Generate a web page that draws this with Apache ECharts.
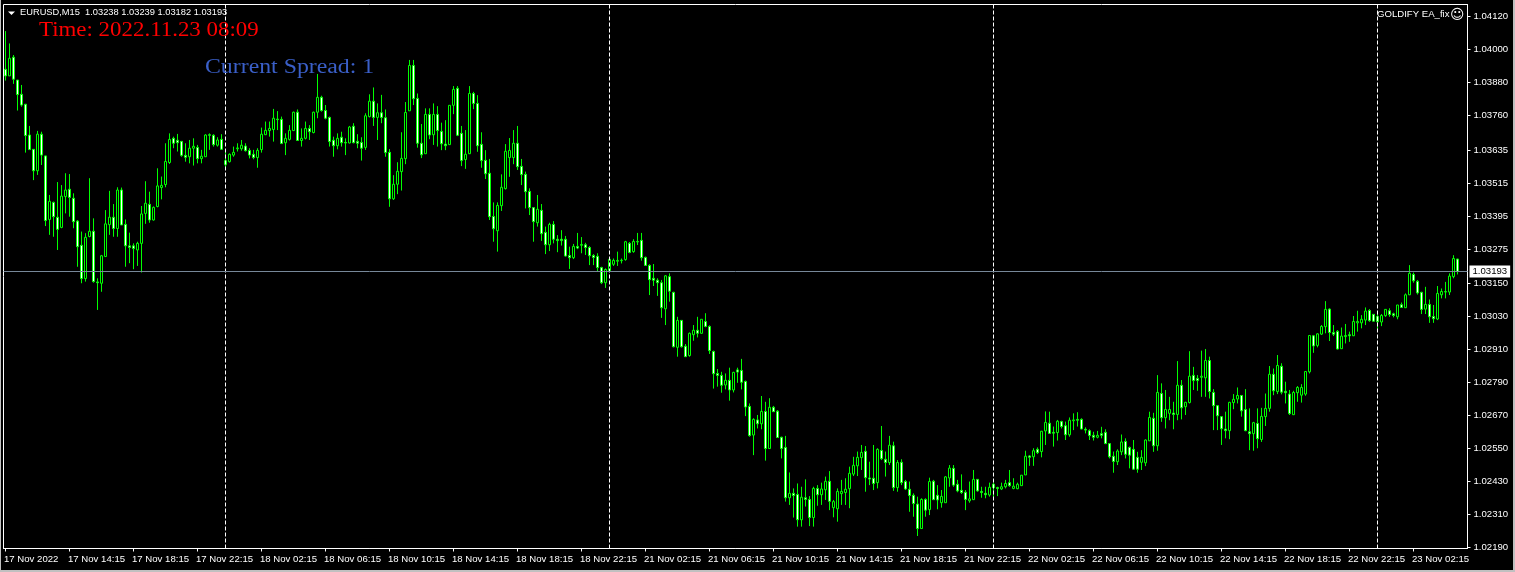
<!DOCTYPE html>
<html>
<head>
<meta charset="utf-8">
<title>EURUSD,M15</title>
<script src="https://cdn.jsdelivr.net/npm/echarts@6/dist/echarts.min.js"></script>
<style>html,body{margin:0;padding:0;background:#000;overflow:hidden}#chart{width:1515px;height:572px;}</style>
</head>
<body>
<div id="chart"></div>
<script>
// Prices are stored in 0.00001 units above 1.00000 (3193 = 1.03193)
const opens = [
3928,3904,3972,3889,3837,3801,3689,3637,3559,3692,
3613,3382,3444,3390,3353,3465,3492,3459,3376,3288,
3167,3320,3339,3155,3150,3247,3363,3390,3349,3489,
3364,3286,3286,3271,3295,3404,3437,3380,3429,3498,
3509,3589,3677,3670,3666,3615,3610,3641,3644,3603,
3610,3690,3688,3652,3673,3581,3592,3616,3639,3639,
3649,3633,3619,3607,3636,3690,3705,3709,3747,3746,
3661,3673,3705,3772,3669,3677,3713,3698,3772,3826,
3778,3753,3670,3650,3681,3662,3660,3721,3666,3662,
3644,3756,3812,3753,3770,3752,3626,3457,3510,3556,
3603,3777,3942,3822,3659,3621,3764,3690,3764,3702,
3656,3654,3797,3859,3695,3600,3621,3840,3804,3655,
3597,3550,3393,3341,3432,3494,3607,3607,3659,3575,
3546,3484,3425,3370,3415,3335,3290,3364,3310,3310,
3310,3251,3243,3284,3288,3290,3280,3251,3248,3207,
3152,3196,3219,3230,3232,3236,3295,3265,3300,3306,
3244,3215,3168,3161,3152,3057,3174,3117,2917,3015,
2921,2887,2963,2979,2968,3011,2993,2902,2822,2815,
2780,2797,2762,2835,2833,2793,2702,2598,2653,2639,
2684,2549,2699,2685,2590,2553,2370,2386,2382,2290,
2370,2364,2298,2404,2381,2399,2430,2334,2330,2385,
2389,2403,2456,2486,2516,2539,2442,2441,2425,2542,
2510,2498,2559,2407,2499,2429,2401,2379,2347,2258,
2364,2327,2430,2379,2352,2352,2442,2477,2419,2397,
2390,2359,2363,2437,2393,2386,2380,2419,2407,2402,
2410,2425,2404,2403,2414,2453,2522,2519,2546,2538,
2613,2641,2608,2607,2647,2632,2599,2650,2655,2655,
2619,2614,2597,2590,2603,2608,2567,2521,2501,2537,
2575,2553,2546,2517,2499,2497,2577,2659,2559,2749,
2661,2677,2678,2673,2779,2701,2716,2815,2804,2808,
2806,2869,2753,2705,2665,2620,2614,2716,2729,2742,
2691,2610,2603,2640,2582,2665,2695,2819,2756,2848,
2757,2747,2672,2752,2743,2747,2828,2959,2924,2965,
2992,3056,2971,2975,2912,2956,2963,2959,3006,3006,
3016,3051,3037,3029,3009,3032,3050,3039,3028,3072,
3061,3108,3182,3157,3117,3056,3073,3029,3020,3108,
3118,3118,3174,3238
];
const closes = [
3904,3968,3892,3836,3798,3687,3636,3559,3692,3616,
3378,3448,3392,3346,3467,3489,3462,3374,3283,3167,
3317,3339,3156,3152,3250,3366,3390,3349,3489,3362,
3286,3280,3276,3295,3402,3441,3380,3426,3504,3506,
3593,3673,3659,3661,3615,3608,3641,3648,3603,3612,
3689,3688,3654,3671,3637,3596,3619,3626,3642,3652,
3632,3616,3607,3633,3692,3706,3713,3750,3745,3658,
3677,3706,3772,3669,3677,3713,3701,3772,3826,3778,
3750,3665,3650,3677,3661,3660,3718,3661,3659,3641,
3759,3812,3753,3770,3753,3625,3457,3510,3557,3604,
3771,3942,3821,3659,3617,3764,3689,3764,3705,3657,
3650,3797,3855,3688,3596,3619,3840,3804,3650,3596,
3548,3392,3348,3433,3499,3630,3633,3659,3574,3545,
3483,3425,3374,3419,3330,3290,3364,3310,3305,3305,
3249,3243,3284,3278,3291,3280,3250,3244,3207,3152,
3200,3237,3233,3233,3234,3301,3262,3302,3302,3243,
3215,3163,3161,3152,3061,3177,3121,2919,3015,2919,
2883,2968,2979,2968,3019,2993,2905,2821,2815,2779,
2797,2762,2826,2827,2790,2700,2596,2655,2639,2684,
2549,2699,2683,2589,2549,2370,2386,2378,2290,2372,
2364,2298,2404,2381,2402,2430,2357,2356,2393,2393,
2401,2459,2488,2517,2535,2443,2438,2422,2546,2512,
2498,2561,2407,2498,2425,2402,2378,2349,2258,2364,
2325,2429,2363,2362,2375,2446,2478,2416,2395,2389,
2364,2366,2437,2395,2389,2381,2408,2407,2404,2410,
2422,2414,2412,2419,2452,2521,2517,2541,2534,2612,
2644,2604,2605,2648,2629,2599,2652,2653,2652,2620,
2616,2596,2590,2597,2597,2567,2519,2502,2540,2573,
2528,2525,2474,2474,2517,2580,2662,2559,2753,2661,
2691,2691,2673,2779,2697,2717,2812,2796,2796,2812,
2869,2756,2705,2668,2621,2614,2717,2728,2742,2686,
2614,2603,2643,2585,2666,2695,2819,2759,2851,2754,
2752,2676,2753,2771,2771,2829,2960,2922,2966,2993,
3055,2971,2965,2911,2958,2960,2959,3011,3011,3019,
3049,3014,3012,3010,3033,3055,3036,3033,3071,3062,
3108,3186,3159,3115,3055,3073,3028,3021,3113,3120,
3120,3176,3240,3193
];
const lows = [
3887,3904,3875,3778,3792,3625,3635,3525,3544,3580,
3358,3326,3319,3271,3350,3404,3392,3350,3210,3150,
3156,3317,3152,3053,3119,3247,3326,3319,3319,3362,
3210,3223,3201,3213,3189,3366,3370,3378,3426,3455,
3499,3584,3641,3629,3610,3592,3586,3578,3586,3586,
3610,3635,3647,3647,3635,3564,3589,3610,3629,3632,
3629,3604,3601,3570,3625,3689,3683,3665,3707,3656,
3616,3669,3705,3669,3647,3673,3671,3695,3750,3774,
3746,3647,3610,3637,3647,3616,3659,3659,3641,3596,
3635,3753,3722,3671,3732,3610,3428,3453,3474,3487,
3583,3777,3798,3643,3605,3621,3674,3653,3647,3634,
3634,3653,3765,3685,3576,3566,3620,3783,3628,3570,
3529,3380,3301,3265,3413,3491,3537,3583,3562,3507,
3422,3398,3301,3356,3304,3256,3267,3295,3263,3287,
3247,3202,3238,3274,3259,3253,3216,3216,3192,3147,
3133,3192,3213,3213,3222,3232,3259,3261,3289,3232,
3213,3107,3140,3104,3024,2998,3083,2917,2883,2916,
2883,2883,2941,2953,2967,2990,2893,2767,2774,2752,
2764,2723,2753,2788,2764,2667,2592,2525,2622,2619,
2505,2549,2683,2589,2513,2356,2344,2298,2265,2265,
2338,2267,2265,2341,2344,2362,2325,2299,2283,2344,
2344,2332,2449,2449,2471,2392,2416,2398,2404,2507,
2447,2489,2395,2392,2416,2398,2319,2301,2231,2258,
2301,2307,2362,2328,2334,2352,2410,2410,2390,2384,
2325,2352,2362,2392,2370,2368,2374,2368,2376,2398,
2404,2410,2401,2401,2413,2453,2486,2486,2529,2517,
2562,2602,2556,2578,2622,2580,2592,2616,2629,2619,
2604,2580,2578,2586,2586,2565,2513,2461,2489,2525,
2513,2477,2471,2461,2471,2485,2577,2537,2541,2646,
2622,2652,2619,2652,2655,2671,2713,2762,2759,2737,
2737,2731,2616,2616,2562,2586,2583,2692,2713,2665,
2612,2543,2541,2550,2573,2631,2683,2743,2747,2746,
2713,2671,2671,2719,2716,2741,2822,2897,2917,2962,
2968,2940,2958,2909,2911,2931,2937,2958,2974,2986,
2998,3010,3010,2977,2994,3028,3028,3026,3019,3061,
3060,3107,3152,3109,3038,3038,3006,3006,3016,3095,
3095,3107,3168,3182
];
const highs = [
4067,4022,3980,3889,3871,3802,3722,3638,3704,3701,
3614,3471,3447,3518,3507,3550,3547,3477,3380,3338,
3332,3532,3386,3168,3253,3416,3486,3438,3499,3498,
3382,3334,3295,3301,3431,3521,3483,3429,3568,3538,
3659,3695,3683,3693,3666,3659,3671,3677,3653,3635,
3692,3695,3692,3681,3692,3635,3622,3647,3659,3671,
3659,3641,3635,3641,3716,3738,3738,3784,3776,3756,
3695,3725,3774,3782,3713,3738,3725,3774,3911,3832,
3798,3756,3683,3695,3701,3677,3722,3732,3692,3681,
3768,3837,3862,3804,3835,3782,3638,3543,3590,3699,
3809,3962,3962,3840,3729,3786,3786,3804,3794,3734,
3743,3798,3867,3867,3722,3707,3867,3846,3834,3699,
3634,3602,3444,3444,3546,3656,3678,3707,3722,3602,
3556,3495,3426,3471,3438,3356,3370,3376,3325,3343,
3322,3283,3293,3333,3318,3297,3285,3256,3259,3210,
3204,3240,3240,3265,3240,3304,3300,3310,3333,3333,
3247,3219,3220,3168,3162,3180,3186,3119,3028,3016,
2929,2971,2998,3028,3019,3041,2997,2905,2838,2828,
2822,2843,2828,2843,2875,2796,2713,2659,2671,2740,
2719,2732,2704,2689,2592,2595,2462,2404,2422,2410,
2437,2376,2410,2416,2425,2447,2467,2362,2404,2435,
2441,2483,2519,2538,2562,2558,2501,2562,2550,2631,
2538,2595,2574,2507,2510,2435,2429,2386,2374,2368,
2368,2443,2435,2416,2398,2449,2489,2489,2435,2455,
2398,2429,2471,2437,2410,2410,2425,2425,2410,2425,
2435,2471,2441,2425,2453,2541,2525,2550,2553,2613,
2684,2683,2629,2653,2650,2647,2662,2677,2681,2659,
2626,2619,2610,2613,2628,2619,2568,2538,2546,2600,
2586,2556,2580,2537,2543,2582,2683,2679,2816,2786,
2762,2737,2719,2867,2798,2719,2903,2846,2816,2905,
2911,2883,2765,2707,2667,2683,2719,2747,2771,2743,
2765,2695,2646,2695,2697,2749,2849,2840,2889,2859,
2792,2762,2759,2776,2783,2831,2962,2962,2968,2998,
3085,3059,2998,2980,2989,3002,2974,3031,3050,3034,
3062,3056,3038,3038,3038,3055,3059,3043,3071,3080,
3113,3216,3189,3162,3119,3137,3091,3071,3140,3131,
3155,3186,3252,3239
];
const dateLabels = ["17 Nov 2022","17 Nov 14:15","17 Nov 18:15","17 Nov 22:15","18 Nov 02:15","18 Nov 06:15",
"18 Nov 10:15","18 Nov 14:15","18 Nov 18:15","18 Nov 22:15","21 Nov 02:15","21 Nov 06:15","21 Nov 10:15",
"21 Nov 14:15","21 Nov 18:15","21 Nov 22:15","22 Nov 02:15","22 Nov 06:15","22 Nov 10:15","22 Nov 14:15",
"22 Nov 18:15","22 Nov 22:15","23 Nov 02:15"];
const priceTicks = [1.04120,1.04000,1.03880,1.03760,1.03635,1.03515,1.03395,1.03275,1.03150,1.03030,
1.02910,1.02790,1.02670,1.02550,1.02430,1.02310,1.02190];
const separators = [55,151,247,343];
const barsPerLabel = 16;
const totalSlots = 366;
const bidPrice = 1.03193;

const toPrice = v => +(1 + v / 1e5).toFixed(5);
const categories = [];
for (let i = 0; i < totalSlots; i++) categories.push(String(i));
const candles = opens.map((o, i) => [toPrice(o), toPrice(closes[i]), toPrice(lows[i]), toPrice(highs[i])]);
const uiFont = '"Liberation Sans", Arial, sans-serif';
const serifFont = '"Liberation Serif", serif';
const frameColor = '#c0c0c0';

const chart = echarts.init(document.getElementById('chart'), null, {renderer: 'canvas'});
chart.setOption({
  animation: false,
  backgroundColor: '#000',
  grid: {left: 3.5, top: 4.5, width: 1464, height: 544, show: true, borderColor: '#fff', borderWidth: 1, backgroundColor: '#000', containLabel: false},
  xAxis: {
    type: 'category',
    data: categories,
    boundaryGap: true,
    axisLine: {show: true, lineStyle: {color: '#fff', width: 1}},
    axisTick: {show: true, alignWithLabel: true, length: 3, lineStyle: {color: '#fff'}, interval: i => i % barsPerLabel === 0},
    axisLabel: {
      color: '#fff', fontFamily: uiFont, fontSize: 9.6, align: 'left', margin: 6, hideOverlap: false, padding: [0, 0, 0, -1.5],
      interval: i => i % barsPerLabel === 0 && i / barsPerLabel < dateLabels.length,
      formatter: (v, i) => dateLabels[i / barsPerLabel] || ''
    },
    splitLine: {show: false}
  },
  yAxis: {
    type: 'value',
    position: 'right',
    min: 1.021855,
    max: 1.041636,
    axisLine: {show: true, lineStyle: {color: '#fff', width: 1}},
    axisTick: {show: true, length: 3, lineStyle: {color: '#fff'}, customValues: priceTicks},
    axisLabel: {color: '#fff', fontFamily: uiFont, fontSize: 9.6, margin: 6, padding: [2, 0, 0, 0], customValues: priceTicks, formatter: v => v.toFixed(5), showMinLabel: true, showMaxLabel: true},
    splitLine: {show: false}
  },
  series: [{
    type: 'candlestick',
    data: candles,
    barWidth: 2,
    itemStyle: {color: '#000', color0: '#fff', borderColor: '#00ff00', borderColor0: '#00ff00', borderWidth: 1},
    silent: true,
    markLine: {
      silent: true,
      symbol: 'none',
      animation: false,
      precision: 5,
      data: [
        ...separators.map(i => ({xAxis: i, label: {show: false}, lineStyle: {color: '#fff', type: [4, 2], width: 1}})),
        {yAxis: bidPrice, lineStyle: {color: '#778899', type: 'solid', width: 1},
         label: {show: true, position: 'end', distance: 2, formatter: bidPrice.toFixed(5), color: '#000', backgroundColor: '#fff', fontFamily: uiFont, fontSize: 9.6, padding: [1, 3, 1, 3]}}
      ]
    }
  }],
  graphic: [
    {type: 'rect', silent: true, z: 100, shape: {x: 0, y: 0, width: 1, height: 572}, style: {fill: frameColor}},
    {type: 'rect', silent: true, z: 100, shape: {x: 1513, y: 0, width: 2, height: 572}, style: {fill: frameColor}},
    {type: 'rect', silent: true, z: 100, shape: {x: 0, y: 570, width: 1515, height: 2}, style: {fill: frameColor}},
    {type: 'polygon', silent: true, z: 100, shape: {points: [[8, 11.5], [15, 11.5], [11.5, 15]]}, style: {fill: '#fff'}},
    {type: 'text', silent: true, z: 100, x: 20, y: 8, style: {text: 'EURUSD,M15  1.03238 1.03239 1.03182 1.03193', fill: '#fff', font: '9.3px ' + uiFont}},
    {type: 'text', silent: true, z: 100, x: 39, y: 20.5, scaleX: 1.145, style: {text: 'Time: 2022.11.23 08:09', fill: '#ff0000', font: '20px ' + serifFont}},
    {type: 'text', silent: true, z: 100, x: 205, y: 57.5, scaleX: 1.19, style: {text: 'Current Spread: 1', fill: '#3a5fc8', font: '20px ' + serifFont}},
    {type: 'text', silent: true, z: 100, x: 1377, y: 9, style: {text: 'GOLDIFY EA_fix', fill: '#fff', font: '9.6px ' + uiFont}},
    {type: 'text', silent: true, z: 100, x: 1450, y: 8, style: {text: '\u263A', fill: '#fff', font: '14px "DejaVu Sans"'}}
  ]
});
</script>
</body>
</html>
